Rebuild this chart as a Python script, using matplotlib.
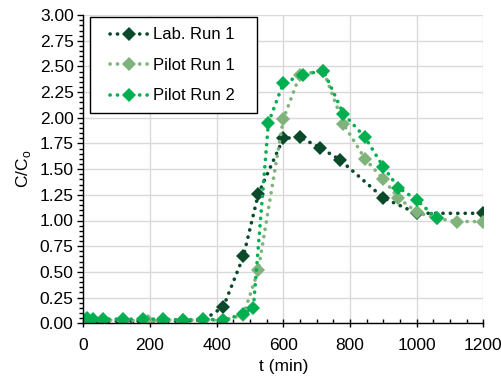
import matplotlib
matplotlib.use("Agg")
import matplotlib.pyplot as plt
from matplotlib.patches import Rectangle
from matplotlib.ticker import MultipleLocator, FormatStrFormatter

plt.rcParams['font.family'] = ['Liberation Sans', 'DejaVu Sans']

lab_t = [10, 30, 60, 120, 180, 240, 300, 360, 420, 480, 525, 600, 650, 710, 770, 900, 1000, 1200]
lab_c = [0.02, 0.02, 0.02, 0.02, 0.02, 0.02, 0.02, 0.03, 0.16, 0.65, 1.26, 1.80, 1.81, 1.71, 1.59, 1.22, 1.07, 1.07]

p1_t = [15, 60, 120, 195, 240, 300, 360, 420, 480, 525, 600, 650, 720, 780, 845, 900, 945, 1000, 1060, 1120, 1200]
p1_c = [0.03, 0.03, 0.03, 0.02, 0.03, 0.03, 0.03, 0.03, 0.08, 0.52, 1.99, 2.42, 2.46, 1.94, 1.60, 1.40, 1.22, 1.08, 1.02, 0.99, 0.99]

p2_t = [10, 30, 60, 120, 180, 240, 300, 360, 420, 480, 510, 555, 600, 660, 720, 780, 845, 900, 945, 1000, 1060]
p2_c = [0.05, 0.04, 0.04, 0.04, 0.04, 0.04, 0.03, 0.04, 0.03, 0.09, 0.15, 1.95, 2.34, 2.42, 2.46, 2.04, 1.81, 1.52, 1.32, 1.20, 1.02]

series = [
    ("Lab. Run 1", lab_t, lab_c, "#0a4a2a"),
    ("Pilot Run 1", p1_t, p1_c, "#80b37c"),
    ("Pilot Run 2", p2_t, p2_c, "#00b050"),
]

fig = plt.figure(figsize=(5.02, 3.78), dpi=100)
ax = fig.add_axes([0.166, 0.145, 0.797, 0.815])

for name, t, c, col in series:
    ax.plot(t, c, color=col, linestyle=(0, (0.05, 2.0)), linewidth=2.6,
            dash_capstyle='round', marker='D', markersize=7.5,
            markeredgewidth=0, label=name)

ax.set_xlim(0, 1200)
ax.set_ylim(0, 3.0)
ax.xaxis.set_major_locator(MultipleLocator(200))
ax.xaxis.set_minor_locator(MultipleLocator(50))
ax.yaxis.set_major_locator(MultipleLocator(0.25))
ax.yaxis.set_minor_locator(MultipleLocator(0.05))
ax.yaxis.set_major_formatter(FormatStrFormatter('%.2f'))

ax.grid(True, which='major', color='#d9d9d9', linewidth=1.0)
ax.set_axisbelow(True)
for s in ['top', 'right']:
    ax.spines[s].set_visible(False)
for s in ['left', 'bottom']:
    ax.spines[s].set_color('black')
    ax.spines[s].set_linewidth(1.0)

ax.tick_params(axis='x', which='major', direction='inout', length=6, width=1, labelsize=12.5, pad=8)
ax.tick_params(axis='x', which='minor', direction='in', length=3, width=1)
ax.tick_params(axis='y', which='major', direction='out', length=4, width=1, labelsize=12.5, pad=3)
ax.tick_params(axis='y', which='minor', direction='out', length=3, width=1)

ax.set_xlabel("t (min)", fontsize=12.5, labelpad=4)
ax.set_ylabel(r"C/C$_\mathregular{o}$", fontsize=12.5, labelpad=5)

# legend frame (drawn as a box in axes coordinates)
frame = Rectangle((0.0168, 0.683), 0.4172, 0.3115, transform=ax.transAxes,
                  facecolor='white', edgecolor='black', linewidth=1.0,
                  zorder=4.9, clip_on=False)
ax.add_patch(frame)

leg = ax.legend(loc='upper left', bbox_to_anchor=(0.067, 0.96),
                fontsize=12, frameon=False, handlelength=2.3,
                handletextpad=0.25, borderpad=0.0, labelspacing=0.93,
                borderaxespad=0.0)
leg.set_zorder(5)

fig.savefig("out.png", dpi=100)
